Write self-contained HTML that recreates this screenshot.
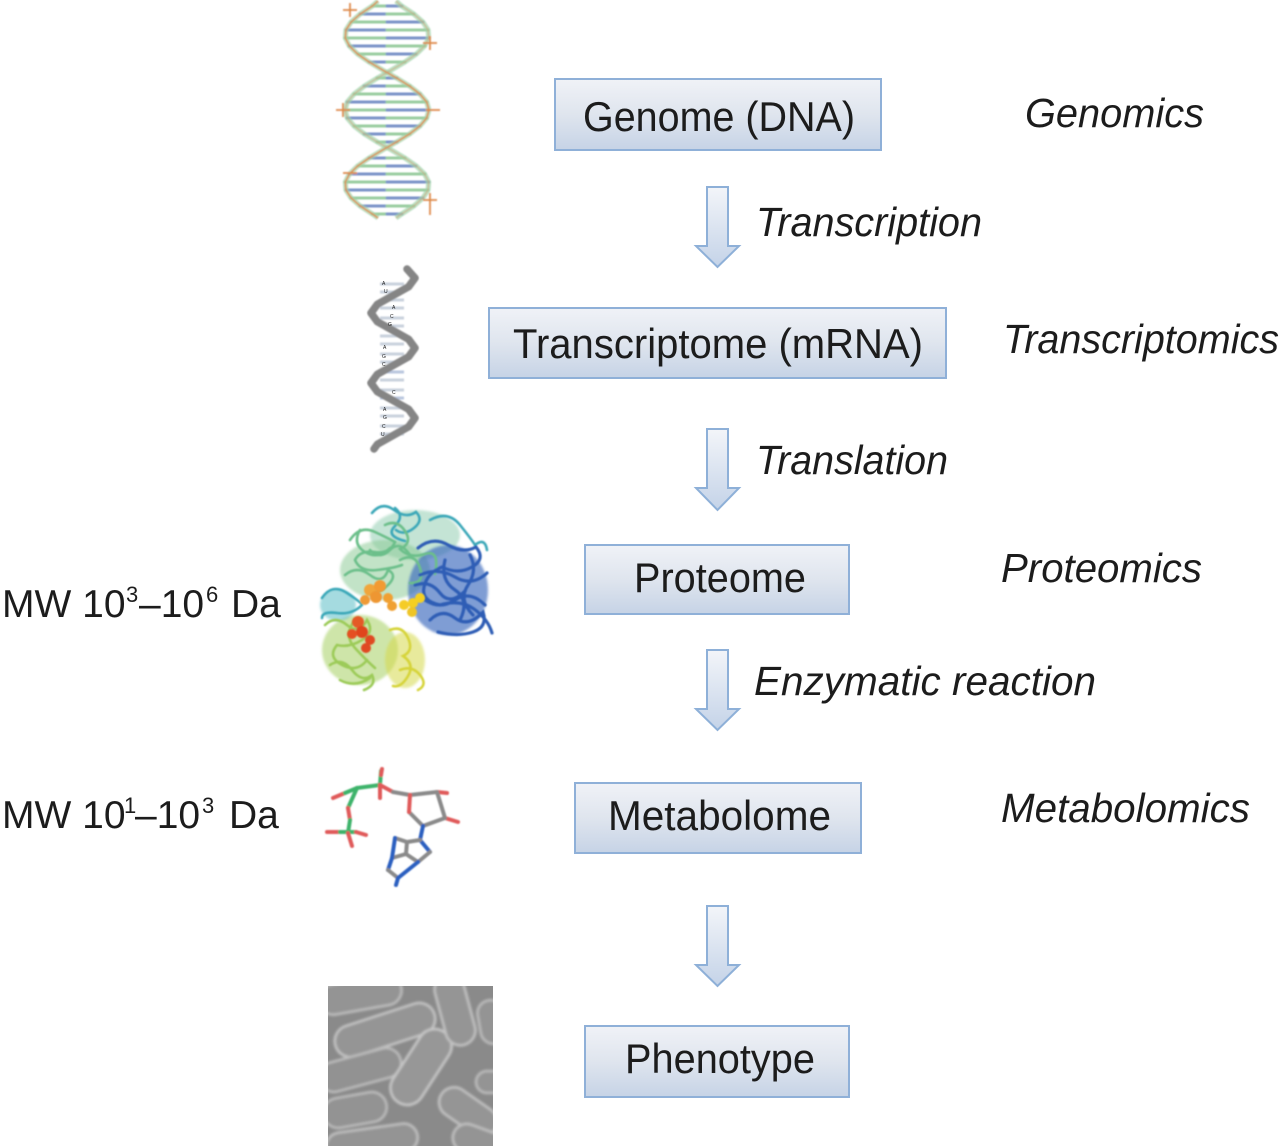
<!DOCTYPE html>
<html><head><meta charset="utf-8"><style>
html,body{margin:0;padding:0;background:#fff;}
body{width:1280px;height:1146px;overflow:hidden;}
svg{display:block;}
text{font-family:"Liberation Sans",Arial,sans-serif;fill:#1c1c1c;}
.it{font-style:italic;}
</style></head><body>
<svg width="1280" height="1146" viewBox="0 0 1280 1146" xmlns="http://www.w3.org/2000/svg">
<defs>
<linearGradient id="bx" x1="0" y1="0" x2="0" y2="1">
<stop offset="0" stop-color="#f0f2f7"/><stop offset="0.5" stop-color="#dfe5ee"/><stop offset="1" stop-color="#c6d3e6"/>
</linearGradient>
<linearGradient id="ar" x1="0" y1="0" x2="0" y2="1">
<stop offset="0" stop-color="#f3f5f9"/><stop offset="1" stop-color="#c4d3e8"/>
</linearGradient>
<filter id="bl" x="-10%" y="-10%" width="120%" height="120%"><feGaussianBlur stdDeviation="0.8"/></filter>
<filter id="bl2" x="-10%" y="-10%" width="120%" height="120%"><feGaussianBlur stdDeviation="1.2"/></filter>
<filter id="bl3" x="-10%" y="-10%" width="120%" height="120%"><feGaussianBlur stdDeviation="1.4"/></filter>
<clipPath id="cc"><rect x="328" y="986" width="165" height="160"/></clipPath>
</defs>

<!-- Boxes -->
<g fill="url(#bx)" stroke="#8fb0d8" stroke-width="2">
<rect x="555" y="79" width="326" height="71"/>
<rect x="489" y="308" width="457" height="70"/>
<rect x="585" y="545" width="264" height="69"/>
<rect x="575" y="783" width="286" height="70"/>
<rect x="585" y="1026" width="264" height="71"/>
</g>
<g font-size="42">
<text x="583" y="131" textLength="272" lengthAdjust="spacingAndGlyphs">Genome (DNA)</text>
<text x="513" y="358" textLength="410" lengthAdjust="spacingAndGlyphs">Transcriptome (mRNA)</text>
<text x="634" y="592" textLength="172" lengthAdjust="spacingAndGlyphs">Proteome</text>
<text x="608" y="830" textLength="223" lengthAdjust="spacingAndGlyphs">Metabolome</text>
<text x="625" y="1073" textLength="190" lengthAdjust="spacingAndGlyphs">Phenotype</text>
</g>

<!-- Arrows -->
<g fill="url(#ar)" stroke="#8eb0d8" stroke-width="2" stroke-linejoin="miter">
<polygon points="707,187 728,187 728,246 739,246 717.5,267 696,246 707,246"/>
<polygon points="707,429 728,429 728,488 739,488 717.5,510 696,488 707,488"/>
<polygon points="707,650 728,650 728,709 739,709 717.5,730 696,709 707,709"/>
<polygon points="707,906 728,906 728,965 739,965 717.5,986 696,965 707,965"/>
</g>

<!-- Italic labels -->
<g font-size="41">
<text class="it" x="1025" y="127" textLength="179" lengthAdjust="spacingAndGlyphs">Genomics</text>
<text class="it" x="756" y="236" textLength="226" lengthAdjust="spacingAndGlyphs">Transcription</text>
<text class="it" x="1003" y="353" textLength="276" lengthAdjust="spacingAndGlyphs">Transcriptomics</text>
<text class="it" x="756" y="474" textLength="192" lengthAdjust="spacingAndGlyphs">Translation</text>
<text class="it" x="1001" y="582" textLength="201" lengthAdjust="spacingAndGlyphs">Proteomics</text>
<text class="it" x="754" y="695" textLength="342" lengthAdjust="spacingAndGlyphs">Enzymatic reaction</text>
<text class="it" x="1001" y="822" textLength="249" lengthAdjust="spacingAndGlyphs">Metabolomics</text>
</g>

<!-- MW labels -->
<text font-size="39" y="617"><tspan x="2">MW 10</tspan><tspan x="126" dy="-15" font-size="22">3</tspan><tspan x="139" dy="15">–10</tspan><tspan x="206" dy="-15" font-size="22">6</tspan><tspan x="231" dy="15">Da</tspan></text>
<text font-size="39" y="828"><tspan x="2">MW 10</tspan><tspan x="124" dy="-15" font-size="22">1</tspan><tspan x="135" dy="15">–10</tspan><tspan x="202" dy="-15" font-size="22">3</tspan><tspan x="229" dy="15">Da</tspan></text>

<!-- DNA double helix -->
<g filter="url(#bl)" opacity="0.85">
<g stroke-width="3" stroke-linecap="round" opacity="0.75">
<line x1="372" y1="6" x2="387" y2="6" stroke="#5fb06a"/><line x1="387" y1="6" x2="402" y2="6" stroke="#2c54a8"/>
<line x1="360" y1="14" x2="387" y2="14" stroke="#2c54a8"/><line x1="387" y1="14" x2="414" y2="14" stroke="#5fb06a"/>
<line x1="351" y1="22" x2="387" y2="22" stroke="#5fb06a"/><line x1="387" y1="22" x2="423" y2="22" stroke="#2c54a8"/>
<line x1="346" y1="30" x2="387" y2="30" stroke="#2c54a8"/><line x1="387" y1="30" x2="428" y2="30" stroke="#5fb06a"/>
<line x1="345" y1="38" x2="387" y2="38" stroke="#5fb06a"/><line x1="387" y1="38" x2="429" y2="38" stroke="#2c54a8"/>
<line x1="349" y1="46" x2="387" y2="46" stroke="#2c54a8"/><line x1="387" y1="46" x2="425" y2="46" stroke="#5fb06a"/>
<line x1="358" y1="54" x2="387" y2="54" stroke="#5fb06a"/><line x1="387" y1="54" x2="416" y2="54" stroke="#2c54a8"/>
<line x1="369" y1="62" x2="387" y2="62" stroke="#2c54a8"/><line x1="387" y1="62" x2="405" y2="62" stroke="#5fb06a"/>
<line x1="377" y1="78" x2="387" y2="78" stroke="#5fb06a"/><line x1="387" y1="78" x2="397" y2="78" stroke="#2c54a8"/>
<line x1="364" y1="86" x2="387" y2="86" stroke="#2c54a8"/><line x1="387" y1="86" x2="410" y2="86" stroke="#5fb06a"/>
<line x1="354" y1="94" x2="387" y2="94" stroke="#5fb06a"/><line x1="387" y1="94" x2="420" y2="94" stroke="#2c54a8"/>
<line x1="347" y1="102" x2="387" y2="102" stroke="#2c54a8"/><line x1="387" y1="102" x2="427" y2="102" stroke="#5fb06a"/>
<line x1="345" y1="110" x2="387" y2="110" stroke="#5fb06a"/><line x1="387" y1="110" x2="429" y2="110" stroke="#2c54a8"/>
<line x1="347" y1="118" x2="387" y2="118" stroke="#2c54a8"/><line x1="387" y1="118" x2="427" y2="118" stroke="#5fb06a"/>
<line x1="354" y1="126" x2="387" y2="126" stroke="#5fb06a"/><line x1="387" y1="126" x2="420" y2="126" stroke="#2c54a8"/>
<line x1="364" y1="134" x2="387" y2="134" stroke="#2c54a8"/><line x1="387" y1="134" x2="410" y2="134" stroke="#5fb06a"/>
<line x1="377" y1="142" x2="387" y2="142" stroke="#5fb06a"/><line x1="387" y1="142" x2="397" y2="142" stroke="#2c54a8"/>
<line x1="369" y1="158" x2="387" y2="158" stroke="#2c54a8"/><line x1="387" y1="158" x2="405" y2="158" stroke="#5fb06a"/>
<line x1="358" y1="166" x2="387" y2="166" stroke="#5fb06a"/><line x1="387" y1="166" x2="416" y2="166" stroke="#2c54a8"/>
<line x1="349" y1="174" x2="387" y2="174" stroke="#2c54a8"/><line x1="387" y1="174" x2="425" y2="174" stroke="#5fb06a"/>
<line x1="345" y1="182" x2="387" y2="182" stroke="#5fb06a"/><line x1="387" y1="182" x2="429" y2="182" stroke="#2c54a8"/>
<line x1="346" y1="190" x2="387" y2="190" stroke="#2c54a8"/><line x1="387" y1="190" x2="428" y2="190" stroke="#5fb06a"/>
<line x1="351" y1="198" x2="387" y2="198" stroke="#5fb06a"/><line x1="387" y1="198" x2="423" y2="198" stroke="#2c54a8"/>
<line x1="360" y1="206" x2="387" y2="206" stroke="#2c54a8"/><line x1="387" y1="206" x2="414" y2="206" stroke="#5fb06a"/>
<line x1="372" y1="214" x2="387" y2="214" stroke="#5fb06a"/><line x1="387" y1="214" x2="402" y2="214" stroke="#2c54a8"/>
</g>
<g fill="none" stroke-linejoin="round">
<polyline stroke="#8fcc9a" stroke-width="5" opacity="0.7" points="378,1 372.4,6 360.2,14 351.1,22 345.9,30 345.3,38 349.4,46 357.6,54 369.1,62 382.6,70 396.6,78 409.5,86 419.9,94 426.7,102 429,110 426.7,118 419.9,126 409.5,134 396.6,142 382.6,150 369.1,158 357.6,166 349.4,174 345.3,182 345.9,190 351.1,198 360.2,206 372.4,214 378,218"/>
<polyline stroke="#8fcc9a" stroke-width="5" opacity="0.7" points="396,1 401.6,6 413.8,14 422.9,22 428.1,30 428.7,38 424.6,46 416.4,54 404.9,62 391.4,70 377.4,78 364.5,86 354.1,94 347.3,102 345,110 347.3,118 354.1,126 364.5,134 377.4,142 391.4,150 404.9,158 416.4,166 424.6,174 428.7,182 428.1,190 422.9,198 413.8,206 401.6,214 396,218"/>
<polyline stroke="#d8762c" stroke-width="1.8" opacity="0.85" points="378,1 372.4,6 360.2,14 351.1,22 345.9,30 345.3,38 349.4,46 357.6,54 369.1,62 382.6,70 396.6,78 409.5,86 419.9,94 426.7,102 429,110 426.7,118 419.9,126 409.5,134 396.6,142 382.6,150 369.1,158 357.6,166 349.4,174 345.3,182 345.9,190 351.1,198 360.2,206 372.4,214 378,218"/>
<polyline stroke="#c98a5a" stroke-width="1.2" opacity="0.6" points="396,1 401.6,6 413.8,14 422.9,22 428.1,30 428.7,38 424.6,46 416.4,54 404.9,62 391.4,70 377.4,78 364.5,86 354.1,94 347.3,102 345,110 347.3,118 354.1,126 364.5,134 377.4,142 391.4,150 404.9,158 416.4,166 424.6,174 428.7,182 428.1,190 422.9,198 413.8,206 401.6,214 396,218"/>
</g>
<g stroke="#d8762c" stroke-width="1.8">
<line x1="343" y1="10" x2="357" y2="10"/><line x1="350" y1="3" x2="350" y2="17"/>
<line x1="423" y1="43" x2="437" y2="43"/><line x1="430" y1="36" x2="430" y2="50"/>
<line x1="336" y1="110" x2="350" y2="110"/><line x1="343" y1="103" x2="343" y2="117"/>
<line x1="426" y1="110" x2="440" y2="110"/><line x1="343" y1="173" x2="357" y2="173"/>
<line x1="423" y1="200" x2="437" y2="200"/><line x1="430" y1="193" x2="430" y2="215"/>
</g>
</g>

<!-- mRNA helix -->
<g filter="url(#bl)">
<g stroke="#c9d1dd" stroke-width="3">
<line x1="380" y1="284" x2="404" y2="284"/><line x1="380" y1="292" x2="404" y2="292"/><line x1="380" y1="300" x2="404" y2="300"/>
<line x1="380" y1="308" x2="404" y2="308"/><line x1="380" y1="318" x2="404" y2="318"/><line x1="380" y1="326" x2="404" y2="326"/>
<line x1="380" y1="336" x2="404" y2="336"/><line x1="380" y1="344" x2="404" y2="344"/><line x1="380" y1="354" x2="404" y2="354"/>
<line x1="380" y1="362" x2="404" y2="362"/><line x1="380" y1="372" x2="404" y2="372" stroke="#b9c6de"/><line x1="380" y1="380" x2="404" y2="380"/>
<line x1="380" y1="390" x2="404" y2="390"/><line x1="380" y1="398" x2="404" y2="398" stroke="#b9c6de"/><line x1="380" y1="408" x2="404" y2="408"/>
<line x1="380" y1="416" x2="404" y2="416"/><line x1="380" y1="426" x2="404" y2="426"/><line x1="380" y1="434" x2="404" y2="434"/>
</g>
<polyline fill="none" stroke="#858585" stroke-width="7.5" stroke-linejoin="round" stroke-linecap="round" points="407,269 415,278 408.6,286.75 393,295.5 377.4,304.25 371,313 377.4,321.75 393,330.5 408.6,339.25 415,348 408.6,356.75 393,365.5 377.4,374.25 371,383 377.4,391.75 393,400.5 408.6,409.25 415,418 408.6,426.75 393,435.5 377.4,444.25 374,449"/>
</g>
<g font-size="5" fill="#777">
<text x="382" y="285">A</text><text x="384" y="293">U</text><text x="392" y="309">A</text><text x="390" y="318">C</text><text x="388" y="326">G</text>
<text x="383" y="349">A</text><text x="382" y="358">G</text><text x="382" y="366">C</text><text x="392" y="394">C</text>
<text x="383" y="411">A</text><text x="383" y="419">G</text><text x="382" y="428">C</text><text x="381" y="436">U</text>
</g>

<!-- Protein -->
<g filter="url(#bl2)">
<ellipse cx="415" cy="535" rx="45" ry="25" fill="#7cc4a2" opacity="0.45"/>
<ellipse cx="385" cy="570" rx="45" ry="30" fill="#86c790" opacity="0.5"/>
<ellipse cx="448" cy="590" rx="40" ry="45" fill="#3a68bd" opacity="0.65"/>
<ellipse cx="360" cy="650" rx="38" ry="35" fill="#a5cf62" opacity="0.55"/>
<ellipse cx="405" cy="660" rx="20" ry="28" fill="#d5d84a" opacity="0.55"/>
<ellipse cx="338" cy="605" rx="18" ry="16" fill="#4cb7c2" opacity="0.5"/>
</g>
<g fill="none" stroke-width="2.6" stroke-linecap="round" filter="url(#bl)">
<g stroke="#3aa7b8">
<path d="M372,513 q10,-12 22,-3 t22,2 q8,8 -2,16 t-18,2"/>
<path d="M430,520 q18,-10 30,5 t15,20 q10,-8 12,5"/>
<path d="M322,598 q10,-15 25,-5 t15,12 q-10,10 -25,8 t-15,5"/>
<path d="M395,508 q10,8 0,18 t10,15"/>
</g>
<g stroke="#6cbf8a">
<path d="M350,540 q10,-15 25,-8 t20,10 q-5,12 -20,10 t-20,8 q5,12 22,10 t25,-5"/>
<path d="M385,525 q12,-6 20,6 t-5,18 q10,10 25,5 t10,20"/>
<path d="M345,575 q12,-10 25,0 t18,-5 q10,5 0,15 t-20,5"/>
<path d="M400,560 q15,-8 20,8 t-10,15"/>
<path d="M360,530 q-8,14 5,22 t25,-4"/>
<path d="M370,550 q10,10 20,0 t20,5"/>
</g>
<g stroke="#2d5db5" stroke-width="3.2">
<path d="M418,548 q15,-12 30,-3 t28,2 q10,12 -4,20 t-30,0 q-15,6 -18,20 t16,18 q20,-6 34,4 t18,24"/>
<path d="M420,575 q18,-8 35,2 t32,-4"/>
<path d="M425,600 q15,10 30,0 t30,5"/>
<path d="M430,620 q12,-12 25,-2 t28,-6 q5,15 -10,20 t-35,0"/>
<path d="M445,560 q-5,20 10,30 t5,30"/>
<path d="M470,555 q8,15 -2,30 t5,30"/>
<path d="M415,585 q15,-5 25,8 t25,-2"/>
</g>
<g stroke="#9ccb58">
<path d="M325,625 q10,-10 22,0 t20,-5 q8,12 -5,20 t-25,5 q-10,12 5,20 t25,-5"/>
<path d="M330,665 q12,-8 22,5 t20,5 q5,10 -8,15"/>
<path d="M355,620 q-12,15 0,28 t20,20"/>
<path d="M340,680 q15,8 30,-2"/>
</g>
<g stroke="#d6d43a">
<path d="M390,630 q12,-5 18,8 t-5,18 q12,8 5,20 t-15,10"/>
<path d="M400,670 q12,-5 20,5 t-2,15"/>
</g>
</g>
<g filter="url(#bl)">
<circle cx="370" cy="590" r="6" fill="#f0a53a"/><circle cx="380" cy="586" r="6" fill="#f29a30"/>
<circle cx="376" cy="597" r="6" fill="#ee9630"/><circle cx="388" cy="598" r="5" fill="#f0a030"/>
<circle cx="392" cy="606" r="5" fill="#f0a030"/><circle cx="365" cy="600" r="5" fill="#ee9a36"/>
<circle cx="404" cy="605" r="5" fill="#f5cc25"/><circle cx="413" cy="603" r="5" fill="#f5cf20"/>
<circle cx="420" cy="598" r="5" fill="#f4d020"/><circle cx="412" cy="612" r="5" fill="#eec525"/>
<circle cx="358" cy="622" r="6" fill="#e45a25"/><circle cx="362" cy="632" r="6" fill="#e0441c"/>
<circle cx="370" cy="640" r="5" fill="#e04a20"/><circle cx="352" cy="634" r="5" fill="#e55024"/>
<circle cx="366" cy="648" r="5" fill="#e04a20"/>
</g>

<!-- Metabolite -->
<g stroke-width="4" stroke-linecap="round" filter="url(#bl)">
<line x1="333" y1="798" x2="345" y2="793" stroke="#e05a5a"/>
<line x1="345" y1="793" x2="357" y2="788" stroke="#3db36a"/>
<line x1="357" y1="788" x2="380" y2="785" stroke="#3db36a"/>
<line x1="380" y1="785" x2="381" y2="771" stroke="#3db36a"/>
<line x1="381" y1="775" x2="382" y2="769" stroke="#e05a5a"/>
<line x1="380" y1="785" x2="380" y2="798" stroke="#e05a5a"/>
<line x1="380" y1="785" x2="393" y2="792" stroke="#e05a5a"/>
<line x1="393" y1="792" x2="410" y2="795" stroke="#8a8a8a"/>
<line x1="357" y1="788" x2="348" y2="808" stroke="#3db36a"/>
<line x1="348" y1="808" x2="350" y2="820" stroke="#e05a5a"/>
<line x1="350" y1="820" x2="348" y2="833" stroke="#3db36a"/>
<line x1="327" y1="832" x2="340" y2="832" stroke="#e05a5a"/>
<line x1="340" y1="832" x2="356" y2="832" stroke="#3db36a"/>
<line x1="356" y1="832" x2="366" y2="835" stroke="#e05a5a"/>
<line x1="348" y1="833" x2="352" y2="846" stroke="#e05a5a"/>
<line x1="410" y1="795" x2="437" y2="792" stroke="#8a8a8a"/>
<line x1="437" y1="792" x2="447" y2="793" stroke="#e05a5a"/>
<line x1="437" y1="792" x2="445" y2="818" stroke="#8a8a8a"/>
<line x1="445" y1="818" x2="458" y2="822" stroke="#e05a5a"/>
<line x1="445" y1="818" x2="423" y2="826" stroke="#8a8a8a"/>
<line x1="423" y1="826" x2="409" y2="812" stroke="#8a8a8a"/>
<line x1="409" y1="812" x2="410" y2="795" stroke="#e05a5a"/>
<line x1="423" y1="826" x2="420" y2="840" stroke="#2a5fc0"/>
<line x1="420" y1="840" x2="430" y2="852" stroke="#2a5fc0"/>
<line x1="430" y1="852" x2="418" y2="862" stroke="#8a8a8a"/>
<line x1="418" y1="862" x2="406" y2="854" stroke="#8a8a8a"/>
<line x1="406" y1="854" x2="407" y2="842" stroke="#8a8a8a"/>
<line x1="407" y1="842" x2="420" y2="840" stroke="#8a8a8a"/>
<line x1="406" y1="854" x2="392" y2="858" stroke="#8a8a8a"/>
<line x1="392" y1="858" x2="388" y2="870" stroke="#2a5fc0"/>
<line x1="388" y1="870" x2="398" y2="878" stroke="#8a8a8a"/>
<line x1="398" y1="878" x2="418" y2="862" stroke="#2a5fc0"/>
<line x1="407" y1="842" x2="395" y2="838" stroke="#8a8a8a"/>
<line x1="395" y1="838" x2="392" y2="858" stroke="#2a5fc0"/>
<line x1="398" y1="878" x2="396" y2="885" stroke="#2a5fc0"/>
</g>

<!-- Cells -->
<g clip-path="url(#cc)">
<rect x="328" y="986" width="165" height="160" fill="#8a8a8a"/>
<g stroke-width="2.5" filter="url(#bl3)">
<g transform="translate(360,995) rotate(-10)"><rect x="-42" y="-15" width="84" height="30" rx="15" fill="#949494" stroke="#bdbdbd"/></g>
<g transform="translate(385,1030) rotate(-18)"><rect x="-52" y="-16" width="104" height="32" rx="16" fill="#959595" stroke="#c4c4c4"/></g>
<g transform="translate(360,1070) rotate(-15)"><rect x="-42" y="-15" width="84" height="30" rx="15" fill="#929292" stroke="#bcbcbc"/></g>
<g transform="translate(421,1067) rotate(-57)"><rect x="-42" y="-17" width="84" height="34" rx="17" fill="#979797" stroke="#c8c8c8"/></g>
<g transform="translate(455,1010) rotate(75)"><rect x="-36" y="-15" width="72" height="30" rx="15" fill="#959595" stroke="#c2c2c2"/></g>
<g transform="translate(492,1022) rotate(80)"><rect x="-22" y="-13" width="44" height="26" rx="13" fill="#949494" stroke="#bcbcbc"/></g>
<g transform="translate(492,1082)"><rect x="-16" y="-11" width="32" height="22" rx="11" fill="#949494" stroke="#bcbcbc"/></g>
<g transform="translate(468,1112) rotate(35)"><rect x="-32" y="-15" width="64" height="30" rx="15" fill="#959595" stroke="#c2c2c2"/></g>
<g transform="translate(355,1110) rotate(-10)"><rect x="-32" y="-15" width="64" height="30" rx="15" fill="#939393" stroke="#bcbcbc"/></g>
<g transform="translate(372,1142) rotate(-8)"><rect x="-46" y="-14" width="92" height="28" rx="14" fill="#949494" stroke="#c0c0c0"/></g>
<g transform="translate(478,1142) rotate(20)"><rect x="-26" y="-14" width="52" height="28" rx="14" fill="#949494" stroke="#c0c0c0"/></g>
</g>
</g>
</svg>
</body></html>
